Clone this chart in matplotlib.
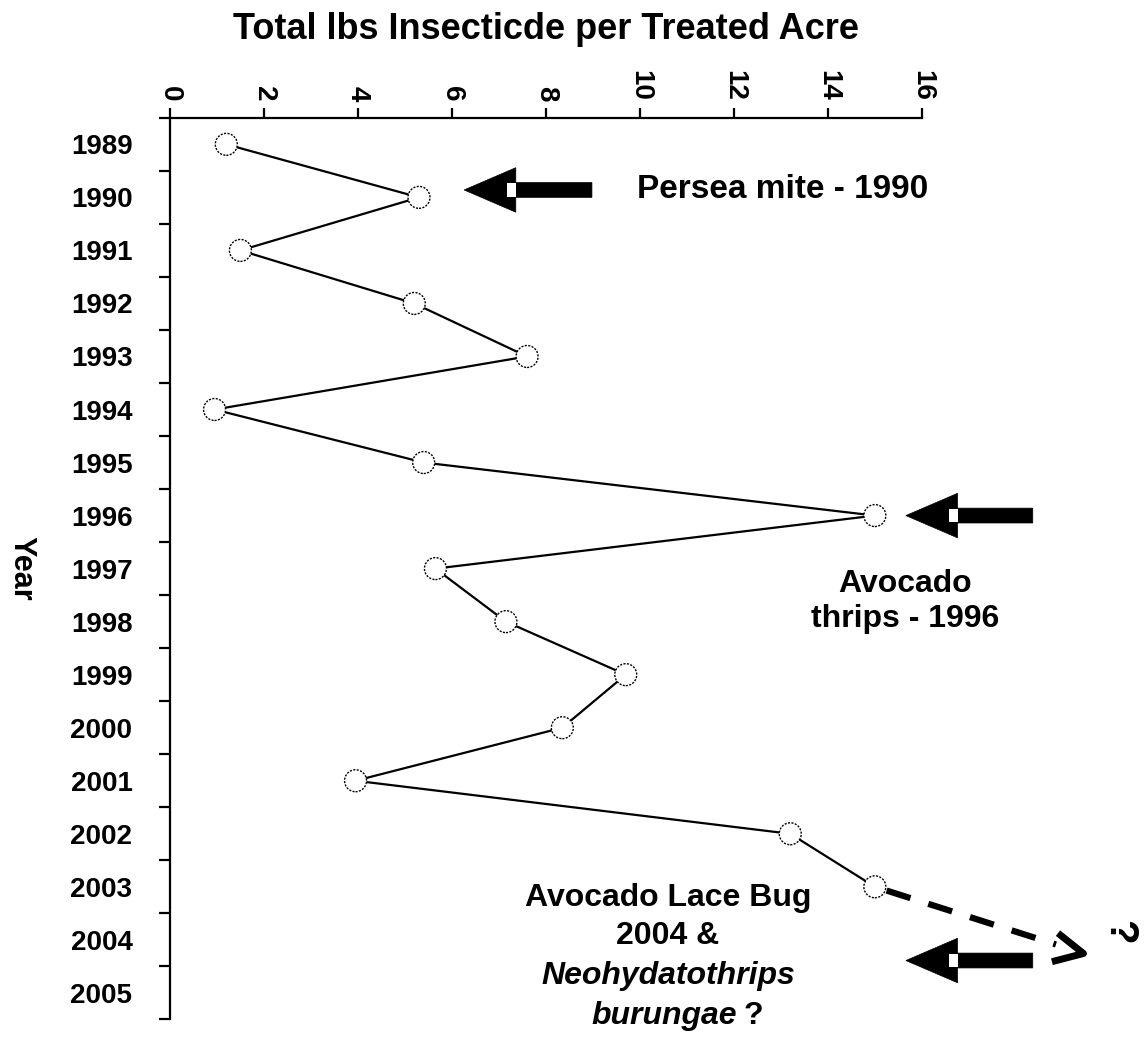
import matplotlib
matplotlib.use('Agg')
import matplotlib.pyplot as plt
from matplotlib.patches import Polygon, Rectangle
from matplotlib.path import Path
from matplotlib.markers import MarkerStyle
from matplotlib.transforms import Affine2D

plt.rcParams['font.family'] = ['Liberation Sans', 'DejaVu Sans']
plt.rcParams['font.weight'] = 'bold'

# Data
year_labels = list(range(1989, 2006))
years = list(range(1989, 2004))
lbs_per_acre = [1.2, 5.3, 1.5, 5.2, 7.6, 0.95, 5.4, 15.0,
                5.65, 7.15, 9.7, 8.35, 3.95, 13.2, 15.0]
x_ticks = [0, 2, 4, 6, 8, 10, 12, 14, 16]

# block arrows: (tip x, tail x, year)
pest_arrows = [(6.26, 8.98, 1989.86),
               (15.66, 18.36, 1996.0),
               (15.66, 18.36, 2004.39)]
# dashed "trend" arrow end point
trend_end = (19.43, 2004.25)

fig = plt.figure(figsize=(11.48, 10.52), dpi=100)
ax = fig.add_axes([0.148, 0.031, 0.655, 0.857])

ax.plot(lbs_per_acre, years, color='black', lw=1.6, zorder=2)
ax.scatter(lbs_per_acre, years, s=250, facecolor='white', edgecolor='black',
           linewidths=1.0, linestyle=(0, (1.5, 1)), zorder=3)

ax.set_xlim(0, 16)
ax.set_ylim(2005.5, 1988.5)

# axes: only top and left lines
for side in ['right', 'bottom']:
    ax.spines[side].set_visible(False)
for side in ['top', 'left']:
    ax.spines[side].set_linewidth(1.6)

ax.xaxis.tick_top()
ax.set_xticks(x_ticks)
ax.set_xticklabels([str(v) for v in x_ticks], rotation=-90, fontsize=20,
                   va='bottom')
ax.tick_params(axis='x', direction='out', length=7, width=1.6, pad=5)

ax.set_yticks(year_labels)
ax.set_yticklabels([str(y) for y in year_labels], fontsize=20)
ax.set_yticks([y - 0.5 for y in year_labels] + [2005.5], minor=True)
ax.tick_params(axis='y', which='major', length=0, pad=27)
ax.tick_params(axis='y', which='minor', direction='out', length=8, width=1.6)

ax.xaxis.set_label_position('top')
ax.set_xlabel('Total lbs Insecticde per Treated Acre', fontsize=26,
              fontweight='bold', va='center')
ax.xaxis.set_label_coords(0.5, 1.098)
ax.set_ylabel('Year', fontsize=22, fontweight='bold', rotation=270,
              va='center')
ax.yaxis.set_label_coords(-0.197, 0.5)

# block arrows pointing at the pest years
head_len = 1.1
head_half = 0.42
shaft_half = 0.14
for tip, tail, yr in pest_arrows:
    base = tip + head_len
    pts = [(tip, yr), (base, yr - head_half), (base, yr - shaft_half),
           (tail, yr - shaft_half), (tail, yr + shaft_half),
           (base, yr + shaft_half), (base, yr + head_half)]
    ax.add_patch(Polygon(pts, closed=True, facecolor='black', edgecolor='black',
                         lw=0.5, clip_on=False, zorder=4))
    ax.add_patch(Rectangle((base - 0.19, yr - shaft_half * 0.9), 0.19,
                           shaft_half * 1.8, facecolor='white', edgecolor='none',
                           clip_on=False, zorder=5))

# dashed line from 2003 onwards, ending in an open chevron
x0, y0 = lbs_per_acre[-1], years[-1]
slope = (trend_end[1] - y0) / (trend_end[0] - x0)
ax.plot([x0 + 0.25, x0 + (trend_end[0] - x0) * 0.87],
        [y0 + 0.25 * slope, y0 + (trend_end[1] - y0) * 0.87],
        color='black', lw=4.5, dashes=(4, 3), solid_capstyle='butt',
        clip_on=False, zorder=2)
chevron = Path([(-1, 0.5), (0, 0), (-1, -0.5)],
               [Path.MOVETO, Path.LINETO, Path.LINETO])
ax.plot([trend_end[0]], [trend_end[1]],
        marker=MarkerStyle(chevron, fillstyle='none',
                           transform=Affine2D().rotate_deg(-12)),
        ms=42, mew=5, color='black', clip_on=False, zorder=2)
ax.text(20.2, 2003.85, '?', fontsize=29, rotation=-90, ha='center',
        va='center', clip_on=False)

# annotations
ax.text(9.94, 1989.86, 'Persea mite - 1990', fontsize=24, ha='left',
        va='center')
ax.text(15.64, 1997.62, 'Avocado\nthrips - 1996', fontsize=23, ha='center',
        va='center', linespacing=1.2)
ax.text(10.6, 2003.21, 'Avocado Lace Bug', fontsize=23, ha='center',
        va='center')
ax.text(10.6, 2003.93, '2004 &', fontsize=23, ha='center', va='center')
ax.text(10.6, 2004.69, 'Neohydatothrips', fontsize=23, ha='center',
        va='center', style='italic')
ax.text(12.06, 2005.44, 'burungae', fontsize=23, ha='right', va='center',
        style='italic')
ax.text(12.2, 2005.44, '?', fontsize=23, ha='left', va='center')

fig.savefig('out.png', dpi=100)
